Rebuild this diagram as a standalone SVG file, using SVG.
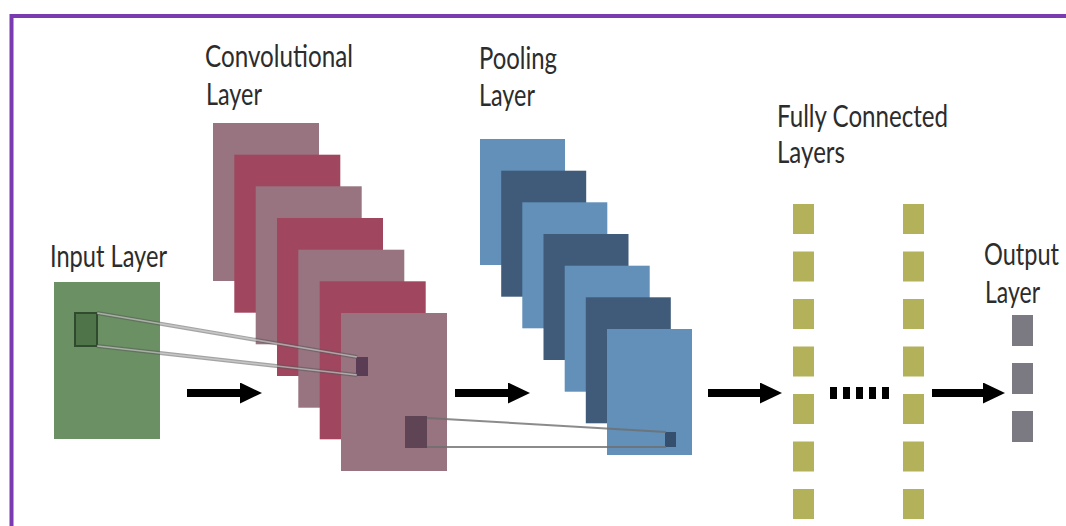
<svg xmlns="http://www.w3.org/2000/svg" width="1066" height="526" viewBox="0 0 1066 526">
  <style>
    .lbl { font-family: Lato, "Liberation Sans", sans-serif; font-size: 30px; fill: #2c2c2c; }
    .mauve { fill: #987380; }
    .crimson { fill: #a0465f; }
    .plight { fill: #6290b8; }
    .pdark { fill: #3f5b79; }
    .fc { fill: #b3b25b; }
    .out { fill: #7b7a82; }
    .arrow { stroke: #000; stroke-width: 8; fill: none; }
    .rf1 { stroke: #5a5a5a; stroke-opacity: 0.55; stroke-width: 4; fill: none; }
    .rf1in { stroke: #e2e2e2; stroke-opacity: 0.55; stroke-width: 1.6; fill: none; }
    .rf2 { stroke: #6e6e6e; stroke-opacity: 0.8; stroke-width: 2; fill: none; }
  </style>
  <defs>
    <marker id="head" markerUnits="userSpaceOnUse" markerWidth="22" markerHeight="21" viewBox="0 0 22 21" refX="0" refY="10.5" orient="auto">
      <path d="M0,0 L22,10.5 L0,21 Z" fill="#000"/>
    </marker>
  </defs>
  <rect width="1066" height="526" fill="#ffffff"/>
  <rect x="11.5" y="16" width="1070" height="530" fill="none" stroke="#7b3bb0" stroke-width="4"/>

  <g id="input-layer">
    <text class="lbl" x="50" y="267" textLength="117" lengthAdjust="spacingAndGlyphs">Input Layer</text>
    <rect x="54" y="282" width="106" height="157" fill="#6b9063"/>
    <rect x="75" y="313" width="22" height="33" fill="#4f744a" stroke="#2f4a2c" stroke-width="2"/>
  </g>

  <g id="convolutional-layer">
    <text class="lbl" x="205" y="67" textLength="148" lengthAdjust="spacingAndGlyphs">Convolutional</text>
    <text class="lbl" x="206" y="105" textLength="56" lengthAdjust="spacingAndGlyphs">Layer</text>
    <rect class="mauve" x="213" y="123" width="106" height="158"/>
    <rect class="crimson" x="234.3" y="154.7" width="106" height="158"/>
    <rect class="mauve" x="255.7" y="186.3" width="106" height="158"/>
    <rect class="crimson" x="277" y="218" width="106" height="158"/>
    <rect class="mauve" x="298.3" y="249.7" width="106" height="158"/>
    <rect class="crimson" x="319.7" y="281.3" width="106" height="158"/>
    <rect class="mauve" x="341" y="313" width="106" height="158"/>
    <rect x="356" y="357" width="12" height="19" fill="#5a3d54"/>
    <rect x="405" y="416" width="22" height="32" fill="#5e4454"/>
  </g>

  <g id="pooling-layer">
    <text class="lbl" x="479" y="69" textLength="78" lengthAdjust="spacingAndGlyphs">Pooling</text>
    <text class="lbl" x="479" y="106" textLength="56" lengthAdjust="spacingAndGlyphs">Layer</text>
    <rect class="plight" x="480" y="139" width="85" height="126"/>
    <rect class="pdark" x="501.2" y="170.7" width="85" height="126"/>
    <rect class="plight" x="522.3" y="202.3" width="85" height="126"/>
    <rect class="pdark" x="543.5" y="234" width="85" height="126"/>
    <rect class="plight" x="564.7" y="265.7" width="85" height="126"/>
    <rect class="pdark" x="585.8" y="297.3" width="85" height="126"/>
    <rect class="plight" x="607" y="329" width="85" height="126"/>
    <rect x="665" y="432" width="11" height="15" fill="#34506e"/>
  </g>

  <g id="fully-connected-layers">
    <text class="lbl" x="777" y="127" textLength="171" lengthAdjust="spacingAndGlyphs">Fully Connected</text>
    <text class="lbl" x="777" y="163" textLength="68" lengthAdjust="spacingAndGlyphs">Layers</text>
    <g id="fc-column-1">
      <rect class="fc" x="793" y="204" width="21" height="30"/>
      <rect class="fc" x="793" y="251.5" width="21" height="30"/>
      <rect class="fc" x="793" y="299" width="21" height="30"/>
      <rect class="fc" x="793" y="346.5" width="21" height="30"/>
      <rect class="fc" x="793" y="394" width="21" height="30"/>
      <rect class="fc" x="793" y="441.5" width="21" height="30"/>
      <rect class="fc" x="793" y="489" width="21" height="30"/>
    </g>
    <g id="fc-column-2">
      <rect class="fc" x="903" y="204" width="21" height="30"/>
      <rect class="fc" x="903" y="251.5" width="21" height="30"/>
      <rect class="fc" x="903" y="299" width="21" height="30"/>
      <rect class="fc" x="903" y="346.5" width="21" height="30"/>
      <rect class="fc" x="903" y="394" width="21" height="30"/>
      <rect class="fc" x="903" y="441.5" width="21" height="30"/>
      <rect class="fc" x="903" y="489" width="21" height="30"/>
    </g>
  </g>

  <g id="output-layer">
    <text class="lbl" x="984" y="265" textLength="75" lengthAdjust="spacingAndGlyphs">Output</text>
    <text class="lbl" x="985" y="303" textLength="55" lengthAdjust="spacingAndGlyphs">Layer</text>
    <rect class="out" x="1012" y="315" width="21" height="31"/>
    <rect class="out" x="1012" y="363" width="21" height="31"/>
    <rect class="out" x="1012" y="411" width="21" height="31"/>
  </g>

  <g id="connectors">
    <line class="rf1" x1="97" y1="313" x2="357" y2="357"/>
    <line class="rf1" x1="97" y1="346" x2="357" y2="375"/>
    <line class="rf1in" x1="97" y1="313" x2="357" y2="357"/>
    <line class="rf1in" x1="97" y1="346" x2="357" y2="375"/>
    <line class="rf2" x1="427" y1="418" x2="666" y2="432"/>
    <line class="rf2" x1="427" y1="447" x2="666" y2="447"/>
    <line class="arrow" x1="187" y1="393" x2="240" y2="393" marker-end="url(#head)"/>
    <line class="arrow" x1="455" y1="393" x2="508" y2="393" marker-end="url(#head)"/>
    <line class="arrow" x1="708" y1="393" x2="760" y2="393" marker-end="url(#head)"/>
    <line class="arrow" x1="932" y1="393" x2="983" y2="393" marker-end="url(#head)"/>
    <g id="ellipsis" fill="#000">
      <rect x="830" y="387" width="7" height="12"/>
      <rect x="843" y="387" width="7" height="12"/>
      <rect x="856" y="387" width="7" height="12"/>
      <rect x="869" y="387" width="7" height="12"/>
      <rect x="882" y="387" width="7" height="12"/>
    </g>
  </g>
</svg>
